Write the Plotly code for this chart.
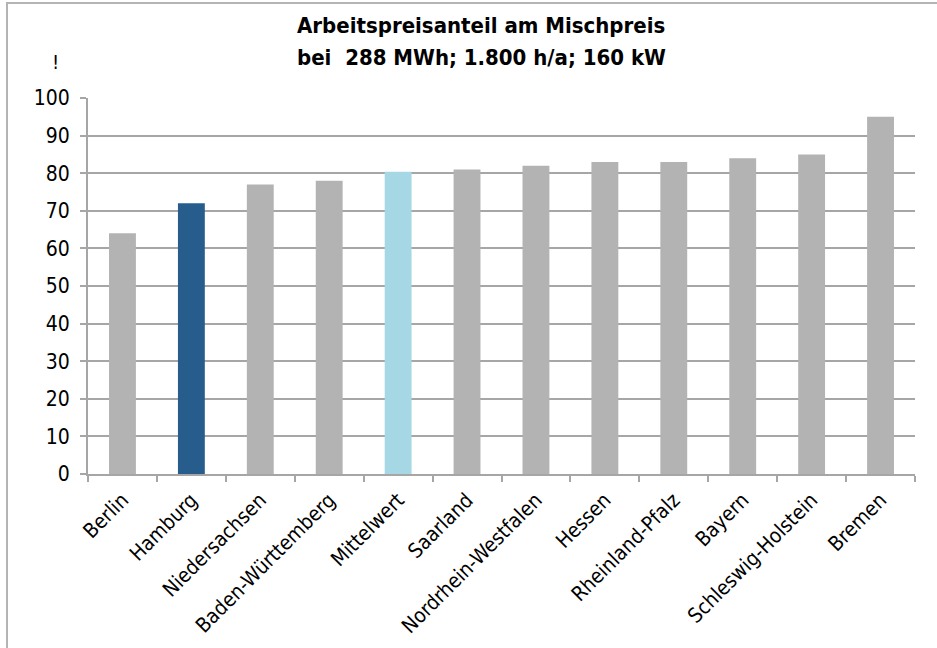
import plotly.graph_objects as go

categories = ["Berlin", "Hamburg", "Niedersachsen", "Baden-Württemberg", "Mittelwert",
              "Saarland", "Nordrhein-Westfalen", "Hessen", "Rheinland-Pfalz", "Bayern",
              "Schleswig-Holstein", "Bremen"]
values = [64, 72, 77, 78, 80.4, 81, 82, 83, 83, 84, 85, 95]
bar_colors = ["#b3b3b3", "#275d8c", "#b3b3b3", "#b3b3b3", "#a6d7e5", "#b3b3b3",
              "#b3b3b3", "#b3b3b3", "#b3b3b3", "#b3b3b3", "#b3b3b3", "#b3b3b3"]
y_ticks = list(range(0, 101, 10))
title_lines = ["Arbeitspreisanteil am Mischpreis", "bei  288 MWh; 1.800 h/a; 160 kW"]

FONT = "DejaVu Sans Condensed, Liberation Sans Narrow, Liberation Sans, sans-serif"

# plot area in pixels
L, R, T, B = 88, 915, 98, 474
W, H = R - L, B - T
px = lambda x: (x - L) / W
py = lambda y: (B - y) / H

fig = go.Figure(go.Bar(
    x=categories, y=values, marker_color=bar_colors,
    marker_line_width=0, width=0.39,
))

annotations = [
    dict(text="<b>%s</b>" % t, xref="paper", yref="paper",
         x=px(481), y=py(yc), xanchor="center", yanchor="middle",
         showarrow=False, font=dict(family=FONT, size=22, color="black"))
    for t, yc in zip(title_lines, [25, 58])
]
annotations.append(dict(text="!", xref="paper", yref="paper",
                        x=px(55), y=py(62), xanchor="center", yanchor="middle",
                        showarrow=False, font=dict(family=FONT, size=20)))

fig.update_layout(
    width=937, height=648,
    margin=dict(l=L, r=937 - R, t=T, b=648 - B),
    paper_bgcolor="white", plot_bgcolor="white",
    showlegend=False,
    font=dict(family=FONT, size=19, color="black"),
    xaxis=dict(
        showgrid=False, showline=True, linecolor="#a6a6a6", linewidth=2,
        ticks="outside", tickson="boundaries", ticklen=6, tickcolor="#a6a6a6",
        tickwidth=2, tickangle=-45, ticklabelstandoff=4, automargin=False,
        tickfont=dict(family=FONT, size=20.5),
    ),
    yaxis=dict(
        range=[0, 100], tickvals=y_ticks, showgrid=True, gridcolor="#a6a6a6",
        gridwidth=2, showline=True, linecolor="#a6a6a6", linewidth=2,
        ticks="outside", ticklen=6, tickcolor="#a6a6a6", tickwidth=2,
        ticklabelstandoff=6, automargin=False,
        tickfont=dict(family=FONT, size=21), zeroline=False,
    ),
    annotations=annotations,
    shapes=[
        dict(type="line", xref="paper", yref="paper",
             x0=px(7), x1=px(7), y0=py(660), y1=py(3),
             line=dict(color="#b4b4b4", width=2)),
        dict(type="line", xref="paper", yref="paper",
             x0=px(6), x1=px(950), y0=py(3), y1=py(3),
             line=dict(color="#b4b4b4", width=2)),
    ],
)

fig.write_html("out.html", config={"displayModeBar": False},
               post_script="document.body.style.margin='0';document.body.style.overflow='hidden';")
